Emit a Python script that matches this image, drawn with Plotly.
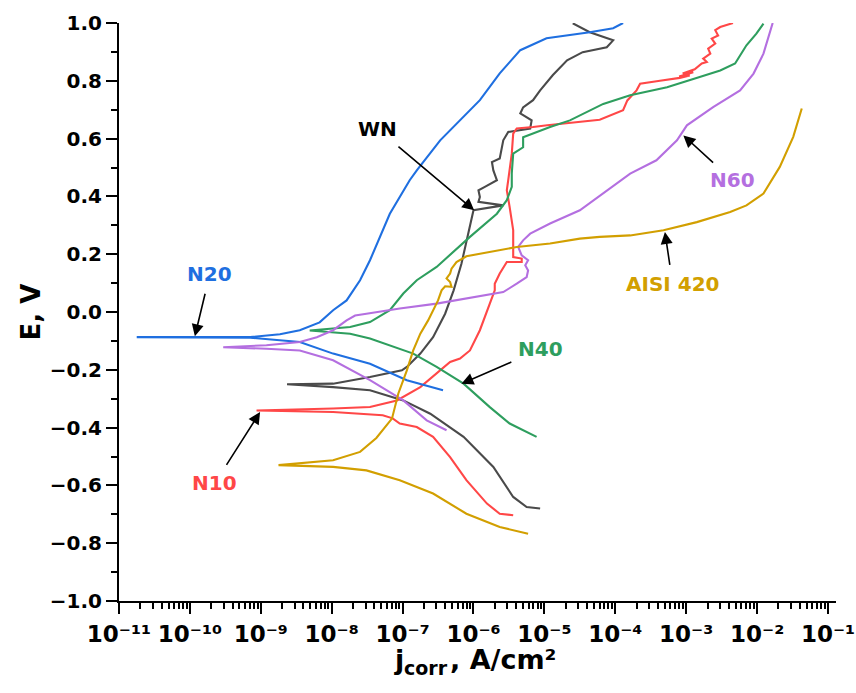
import numpy as np
import plotly.graph_objects as go

# ---------------- data (log10 of j in A/cm2, E in V) ----------------
# each curve: from cathodic end -> corrosion potential -> anodic end
N20_logj = [-6.43, -6.94, -7.46, -7.98, -8.45, -9.15, -10.0, -10.75,
            -10.0, -9.15, -8.73, -8.45, -8.17, -7.98, -7.79, -7.60, -7.46, -7.18,
            -6.90, -6.80, -6.47, -6.19, -5.91, -5.63, -5.34, -4.97, -4.36, -4.03, -3.89]
N20_E = [-0.271, -0.236, -0.179, -0.144, -0.104, -0.089, -0.088, -0.087,
         -0.087, -0.087, -0.077, -0.063, -0.036, 0.006, 0.040, 0.110, 0.179, 0.340,
         0.456, 0.490, 0.594, 0.663, 0.733, 0.826, 0.906, 0.947, 0.968, 0.982, 1.000]

WN_logj = [-5.06, -5.25, -5.44, -5.72, -6.14, -6.61, -6.99, -7.46, -7.98, -8.63,
           -7.98, -7.46, -7.01, -6.94, -6.75, -6.57, -6.40, -6.28, -6.17, -6.07,
           -6.00, -5.58, -5.93, -5.91, -5.93, -5.84, -5.67, -5.72, -5.74, -5.63,
           -5.58, -5.51, -5.20, -5.18, -5.34, -5.30, -5.16, -5.06, -4.88, -4.68,
           -4.46, -4.12, -4.03, -4.36, -4.60]
WN_E = [-0.680, -0.675, -0.640, -0.536, -0.432, -0.352, -0.306, -0.271, -0.260, -0.250,
        -0.248, -0.225, -0.202, -0.190, -0.144, -0.087, -0.006, 0.075, 0.167, 0.283,
        0.352, 0.369, 0.381, 0.398, 0.421, 0.433, 0.456, 0.490, 0.519, 0.531,
        0.594, 0.623, 0.635, 0.663, 0.687, 0.708, 0.733, 0.767, 0.820, 0.871,
        0.899, 0.916, 0.940, 0.968, 0.999]

N10_logj = [-5.44, -5.63, -5.81, -6.10, -6.33, -6.57, -6.80, -7.04, -7.14, -7.28,
            -7.98, -9.06,
            -7.98, -7.46, -7.08, -6.75, -6.33, -6.19, -6.05, -5.91, -5.77, -5.70,
            -5.70, -5.63, -5.53, -5.32, -5.32, -5.44, -5.44, -5.44, -5.49, -5.53,
            -5.51, -5.46, -5.44, -5.39, -5.16, -4.96, -4.22, -3.89, -3.83, -3.79,
            -3.70, -3.65, -3.50, -3.37, -3.09, -2.95, -3.10, -2.90, -3.05, -2.88,
            -2.78, -2.71, -2.76, -2.66, -2.69, -2.59, -2.64, -2.55, -2.59, -2.52, -2.34]
N10_E = [-0.703, -0.698, -0.663, -0.582, -0.502, -0.432, -0.398, -0.386, -0.368, -0.357,
         -0.346, -0.341,
         -0.334, -0.329, -0.306, -0.260, -0.173, -0.161, -0.133, -0.063, 0.029, 0.075,
         0.098, 0.133, 0.173, 0.173, 0.185, 0.190, 0.225, 0.283, 0.363, 0.421,
         0.456, 0.548, 0.617, 0.635, 0.640, 0.646, 0.665, 0.698, 0.732, 0.743,
         0.767, 0.790, 0.794, 0.800, 0.810, 0.818, 0.815, 0.830, 0.825, 0.840,
         0.860, 0.865, 0.877, 0.894, 0.911, 0.929, 0.946, 0.957, 0.975, 0.986, 1.000]

N40_logj = [-5.11, -5.49, -5.77, -6.14, -6.52, -6.85, -7.46, -7.74, -8.31,
            -7.74, -7.46, -7.18, -6.99, -6.80, -6.52, -6.05, -5.67, -5.53, -5.46,
            -5.46, -5.44, -5.30, -5.30, -4.92, -4.64, -4.36, -4.17, -3.79, -3.27, -2.81,
            -2.52, -2.31, -2.22, -2.15, -2.01, -1.91]
N40_E = [-0.432, -0.386, -0.329, -0.248, -0.190, -0.144, -0.092, -0.075, -0.064,
         -0.052, -0.035, 0.006, 0.064, 0.110, 0.156, 0.260, 0.340, 0.387, 0.433,
         0.480, 0.548, 0.570, 0.605, 0.640, 0.663, 0.698, 0.720, 0.750, 0.778, 0.813,
         0.836, 0.860, 0.894, 0.923, 0.963, 0.998]

N60_logj = [-6.38, -6.66, -6.99, -7.46, -7.98, -8.45, -8.92, -9.53,
            -8.92, -8.45, -8.21, -7.98, -7.79, -7.67, -7.51, -7.04, -6.52, -5.58,
            -5.39, -5.25, -5.23, -5.27, -5.23, -5.32, -5.37, -5.30, -5.20, -4.92,
            -4.50, -4.12, -3.79, -3.42, -3.13, -2.99, -2.62, -2.24, -2.05, -1.91,
            -1.82, -1.78]
N60_E = [-0.409, -0.375, -0.306, -0.236, -0.167, -0.133, -0.127, -0.122,
         -0.115, -0.104, -0.087, -0.063, -0.029, -0.012, -0.006, 0.012, 0.029, 0.069,
         0.098, 0.121, 0.144, 0.162, 0.179, 0.196, 0.225, 0.248, 0.271, 0.306,
         0.352, 0.421, 0.479, 0.525, 0.594, 0.646, 0.709, 0.767, 0.825, 0.894,
         0.963, 1.000]

AISI_logj = [-5.23, -5.63, -6.10, -6.57, -7.04, -7.51, -7.98, -8.75,
             -7.98, -7.60, -7.37, -7.22, -7.15, -7.06, -6.94, -6.85, -6.75, -6.64,
             -6.50, -6.45, -6.40, -6.31, -6.33, -6.38, -6.33, -6.31, -6.24, -6.10,
             -5.77, -5.39, -4.92, -4.50, -4.22, -3.79, -3.32, -2.85, -2.38, -2.15,
             -1.91, -1.68, -1.49, -1.37]
AISI_E = [-0.767, -0.744, -0.698, -0.628, -0.582, -0.548, -0.536, -0.530,
          -0.513, -0.484, -0.436, -0.390, -0.369, -0.282, -0.202, -0.133, -0.075, -0.029,
          0.040, 0.075, 0.089, 0.087, 0.104, 0.116, 0.133, 0.150, 0.173, 0.193,
          0.208, 0.225, 0.237, 0.254, 0.260, 0.265, 0.283, 0.311, 0.346, 0.369,
          0.410, 0.502, 0.606, 0.704]

tick_vals = [1e-11, 1e-10, 1e-9, 1e-8, 1e-7, 1e-6, 1e-5, 1e-4, 1e-3, 1e-2, 1e-1]
tick_text = ["10⁻¹¹", "10⁻¹⁰", "10⁻⁹", "10⁻⁸", "10⁻⁷", "10⁻⁶", "10⁻⁵",
             "10⁻⁴", "10⁻³", "10⁻²", "10⁻¹"]

series = [
    ("WN", WN_logj, WN_E, "#4a4a4a"),
    ("N10", N10_logj, N10_E, "#ff4747"),
    ("N20", N20_logj, N20_E, "#1f6fe0"),
    ("N40", N40_logj, N40_E, "#2e9e5e"),
    ("N60", N60_logj, N60_E, "#b46fe0"),
    ("AISI 420", AISI_logj, AISI_E, "#d29f00"),
]

fig = go.Figure()
for name, lj, e, col in series:
    fig.add_trace(go.Scatter(x=10 ** np.array(lj), y=e, mode="lines", name=name,
                             line=dict(color=col, width=2.1), showlegend=False))

# labels: (text, colour, text x(log), text y, arrow head x(log), head y)
labels = [
    ("N20", "#1f6fe0", -9.72, 0.130, -9.93, -0.084),
    ("WN", "#000000", -7.35, 0.632, -5.99, 0.352),
    ("N40", "#2e9e5e", -5.05, -0.129, -6.17, -0.248),
    ("N10", "#ff4747", -9.65, -0.593, -9.01, -0.346),
    ("N60", "#b46fe0", -2.35, 0.456, -3.04, 0.611),
    ("AISI 420", "#d29f00", -3.19, 0.096, -3.30, 0.277),
]
for txt, col, tx, ty, hx, hy in labels:
    fig.add_annotation(x=hx, y=hy, ax=tx, ay=ty, xref="x", yref="y",
                       axref="x", ayref="y", text=txt, showarrow=True,
                       arrowhead=2, arrowsize=1.5, arrowwidth=1.6, arrowcolor="black",
                       startstandoff=6,
                       font=dict(family="DejaVu Sans", size=20, color=col, weight="bold"))

# x-axis title, built from pieces so the subscript keeps an explicit size
title_parts = [("j", 27, 0.3821, -0.1012), ("corr", 19, 0.3961, -0.1165),
               (", A/cm²", 27, 0.4605, -0.1012)]
for t, sz, px, py in title_parts:
    fig.add_annotation(x=px, y=py, xref="paper", yref="paper", text=t, showarrow=False,
                       xanchor="left", yanchor="middle", borderpad=0,
                       font=dict(family="DejaVu Sans", size=sz, color="black", weight="bold"))

fig.update_layout(
    width=856, height=693,
    margin=dict(l=119, r=20, t=23, b=92, autoexpand=False),
    paper_bgcolor="white", plot_bgcolor="white",
    font=dict(family="DejaVu Sans", color="black", weight="bold"),
)
fig.update_xaxes(
    type="log", range=[-11, -0.887], tickmode="array", tickvals=tick_vals, ticktext=tick_text,
    showgrid=False, zeroline=False, automargin=False, ticklabeloverflow="allow",
    showline=True, linecolor="black", linewidth=2, tickangle=0,
    ticks="outside", ticklen=11, tickwidth=2, tickcolor="black",
    minor=dict(ticks="outside", ticklen=6, tickwidth=1.5, tickcolor="black", dtick="D1", showgrid=False),
    tickfont=dict(size=23, family="DejaVu Sans", weight="bold"),
)
fig.update_yaxes(
    range=[-1, 1], dtick=0.2, tickformat=".1f", showgrid=False, zeroline=False,
    automargin=False,
    showline=True, linecolor="black", linewidth=2,
    ticks="outside", ticklen=11, tickwidth=2, tickcolor="black",
    minor=dict(ticks="outside", ticklen=6, tickwidth=1.5, tickcolor="black", dtick=0.1, showgrid=False),
    tickfont=dict(size=20, family="DejaVu Sans", weight="bold"),
    title=dict(text="E, V", font=dict(size=26, family="DejaVu Sans", weight="bold"), standoff=2),
)

fig.write_html("out.html")
